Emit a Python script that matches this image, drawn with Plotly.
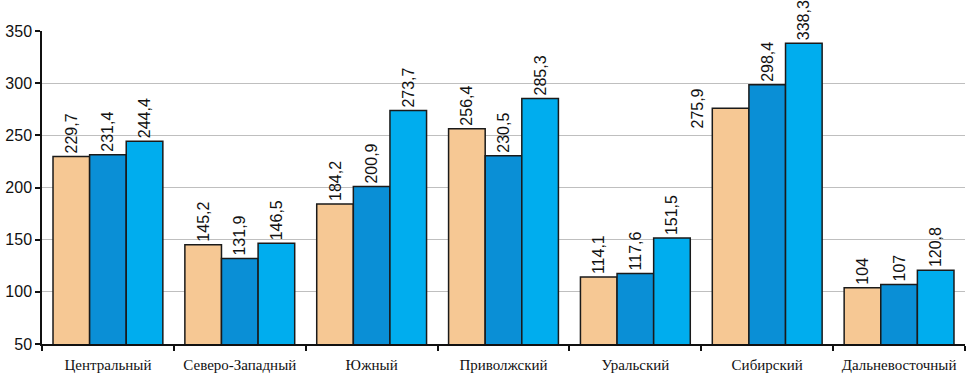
import plotly.graph_objects as go

categories = ["Центральный", "Северо-Западный", "Южный", "Приволжский",
              "Уральский", "Сибирский", "Дальневосточный"]
series_a = [229.7, 145.2, 184.2, 256.4, 114.1, 275.9, 104]
series_b = [231.4, 131.9, 200.9, 230.5, 117.6, 298.4, 107]
series_c = [244.4, 146.5, 273.7, 285.3, 151.5, 338.3, 120.8]
y_ticks = [50, 100, 150, 200, 250, 300, 350]


def fmt(v):
    return f"{v:g}".replace(".", ",")


colors = ["#F6C894", "#0A8FD6", "#00ADEE"]
series = [series_a, series_b, series_c]

# the Sibirsky label of series A is drawn separately (offset to the left)
special_idx = categories.index("Сибирский")
label_font = dict(family="Liberation Sans, Arial", size=16, color="#111111")

fig = go.Figure()
for k, (vals, col) in enumerate(zip(series, colors)):
    texts = [fmt(v) for v in vals]
    if k == 0:
        texts[special_idx] = ""
    fig.add_trace(go.Bar(
        x=categories, y=vals, text=texts,
        textposition="outside", textangle=-90,
        textfont=label_font,
        marker=dict(color=col, line=dict(color="#1a1a1a", width=1.5)),
        cliponaxis=False, constraintext="none",
        showlegend=False,
    ))

fig.add_annotation(
    x=categories[special_idx], y=series_a[special_idx],
    text=fmt(series_a[special_idx]), textangle=-90, showarrow=False,
    xanchor="center", yanchor="middle", xshift=-70, yshift=0,
    font=label_font,
)

fig.update_layout(
    width=969, height=374,
    margin=dict(l=42, r=4, t=31, b=30, autoexpand=False),
    paper_bgcolor="white", plot_bgcolor="white",
    barmode="group", bargap=0.167, bargroupgap=0,
)
fig.update_xaxes(
    type="category", showline=True, linecolor="#111111", linewidth=1.5,
    ticks="outside", tickson="boundaries", ticklen=5, tickcolor="#111111",
    tickwidth=1.5, showgrid=False, automargin=False, ticklabelstandoff=6,
    tickfont=dict(family="Liberation Serif, Times New Roman", size=15, color="#111111"),
)
fig.update_yaxes(
    range=[50, 350], tickvals=y_ticks, showline=True, linecolor="#111111",
    linewidth=1.5, ticks="outside", ticklen=5, tickcolor="#111111", tickwidth=1.5,
    showgrid=True, gridcolor="#BFBFBF", gridwidth=1, zeroline=False,
    automargin=False,
    tickfont=dict(family="Liberation Sans, Arial", size=16, color="#111111"),
)

fig.write_html(
    "out.html",
    config={"displayModeBar": False},
    post_script="document.body.style.margin='0';document.body.style.overflow='hidden';",
)
